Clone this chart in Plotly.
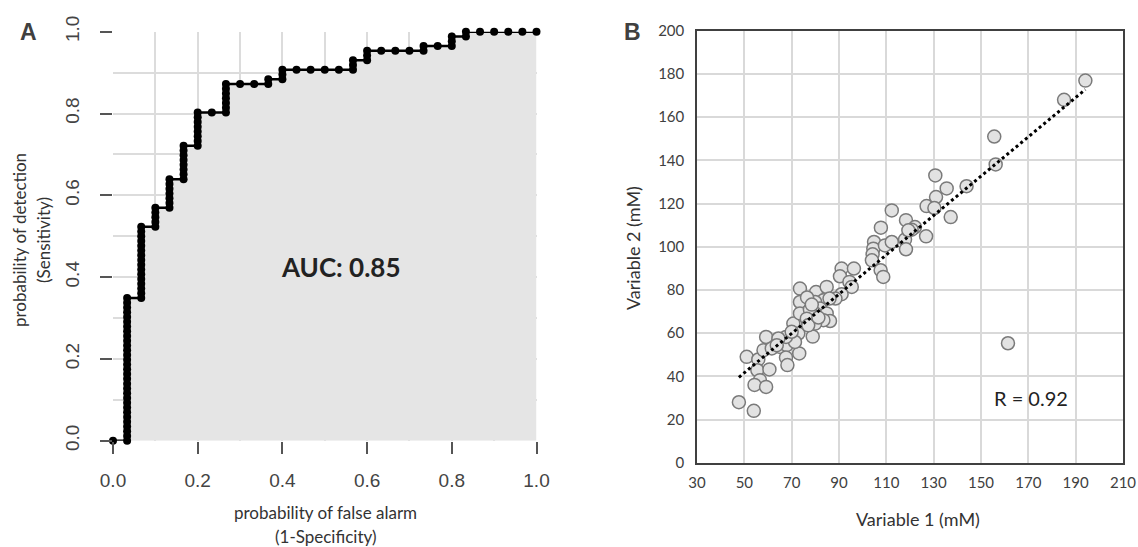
import numpy as np
import plotly.graph_objects as go

W, H = 1138, 547

# ---------------- Panel A: ROC data ----------------
n_neg = 30
n_pos = 86
# cumulative true positives reached at each false-positive count j = 0..30
tp_counts = [0, 30, 45, 49, 55, 62, 69, 69, 75, 75, 75, 76, 78, 78, 78, 78, 78,
             80, 82, 82, 82, 82, 83, 83, 85, 86, 86, 86, 86, 86, 86]
x_ticks_A = [0.0, 0.2, 0.4, 0.6, 0.8, 1.0]
auc_text = "AUC: 0.85"

# ---------------- Panel B: scatter data ----------------
var1 = [47.7, 54.0, 51.0, 55.9, 55.5, 56.6, 54.3, 59.2, 60.6, 59.2, 58.1, 61.6,
        65.1, 67.9, 67.6, 68.2, 70.7, 72.8, 73.2, 73.5, 73.5, 73.5, 71.4, 67.6,
        64.4, 78.9, 80.3, 84.8, 83.4, 79.9, 82.0, 79.9, 84.8, 86.2, 83.4, 79.9,
        77.7, 76.4, 77.0, 70.0, 81.3, 91.1, 96.3, 90.4, 94.4, 95.4, 91.1, 104.8,
        104.5, 104.2, 103.9, 109.4, 112.3, 117.9, 118.3, 107.6, 108.7, 112.3, 107.7,
        118.3, 122.1, 120.7, 119.3, 126.8, 127.0, 131.0, 135.5, 130.7, 137.2, 130.3,
        143.9, 155.6, 156.2, 185.1, 194.1, 161.4, 88.5, 76.5, 78.5, 63.7, 86.0]
var2 = [28.0, 24.0, 49.0, 47.8, 42.8, 38.2, 36.0, 35.1, 43.2, 58.2, 52.1, 52.9,
        53.6, 54.4, 48.7, 45.2, 64.4, 59.8, 50.6, 80.6, 74.4, 69.1, 55.9, 58.2,
        57.5, 58.4, 79.0, 81.4, 75.2, 74.4, 71.4, 69.1, 69.1, 65.6, 66.0, 64.4,
        70.9, 66.7, 63.6, 60.6, 67.2, 89.9, 89.9, 86.3, 83.7, 81.4, 78.0, 102.2,
        99.1, 96.5, 93.7, 100.6, 102.2, 103.3, 98.8, 89.1, 86.0, 116.8, 108.8,
        112.3, 109.1, 107.9, 107.6, 104.8, 118.8, 123.0, 127.0, 133.0, 113.7, 117.9,
        128.0, 151.0, 138.1, 168.0, 176.9, 55.3, 76.0, 76.5, 73.2, 54.4, 76.0]
r_text = "R = 0.92"

# ---------------- build ROC points ----------------
roc_x, roc_y = [], []
prev = 0
for j, tp in enumerate(tp_counts):
    for k in range(prev, tp + 1):
        roc_x.append(j / n_neg)
        roc_y.append(k / n_pos)
    prev = tp

# trendline (least squares over the data range)
v1 = np.array(var1)
v2 = np.array(var2)
slope, icpt = np.polyfit(v1, v2, 1)
tx = np.array([v1.min(), v1.max()])
ty = slope * tx + icpt


def px(x):
    return x / W


def py(y):
    return 1 - y / H


fig = go.Figure()

# fill under ROC
fig.add_trace(go.Scatter(x=roc_x, y=roc_y, mode="lines", line=dict(width=0, color="rgba(0,0,0,0)"),
                         fill="tozeroy", fillcolor="#e5e5e5", xaxis="x", yaxis="y",
                         hoverinfo="skip", showlegend=False))
# ROC line + dots
fig.add_trace(go.Scatter(x=roc_x, y=roc_y, mode="lines+markers",
                         line=dict(color="black", width=2.5),
                         marker=dict(color="black", size=8),
                         cliponaxis=False, xaxis="x", yaxis="y", showlegend=False))

# scatter
fig.add_trace(go.Scatter(x=var1, y=var2, mode="markers",
                         marker=dict(size=13, color="#e2e2e2", line=dict(color="#7a7a7a", width=1.5)),
                         xaxis="x2", yaxis="y2", showlegend=False))
# trendline
fig.add_trace(go.Scatter(x=tx, y=ty, mode="lines", line=dict(color="black", width=3, dash="dot"),
                         xaxis="x2", yaxis="y2", showlegend=False))

tickfontA = dict(family="Liberation Sans, Arial", size=19, color="#444444")
tickfontB = dict(family="Lato", size=15, color="#404040")

fig.update_layout(
    template="none",
    width=W, height=H,
    margin=dict(l=0, r=0, t=0, b=0, autoexpand=False),
    paper_bgcolor="white", plot_bgcolor="white",
    showlegend=False,
    xaxis=dict(domain=[px(113), px(536.5)], range=[0, 1], anchor="y", automargin=False,
               tickvals=x_ticks_A, tickformat=".1f", ticks="outside", ticklen=12,
               tickwidth=1.5, tickcolor="#555555", tickfont=tickfontA,
               showline=False, zeroline=False,
               showgrid=True, gridcolor="#dcdcdc", gridwidth=1.5,
               minor=dict(dtick=0.1, showgrid=True, gridcolor="#dcdcdc", gridwidth=1.5),
               ticklabelstandoff=10),
    yaxis=dict(domain=[py(440.7), py(31.7)], range=[0, 1], anchor="x", automargin=False,
               tickvals=x_ticks_A, tickformat=".1f", ticks="outside", ticklen=12,
               tickwidth=1.5, tickcolor="#555555", tickfont=tickfontA, tickangle=-90,
               showline=False, zeroline=False,
               showgrid=True, gridcolor="#dcdcdc", gridwidth=1.5,
               minor=dict(dtick=0.1, showgrid=True, gridcolor="#dcdcdc", gridwidth=1.5),
               ticklabelstandoff=13),
    xaxis2=dict(domain=[px(697), px(1123)], range=[30, 210], anchor="y2", dtick=20,
                tick0=30, showline=True, mirror=True, linecolor="#404040", linewidth=1.5,
                showgrid=True, gridcolor="#d9d9d9", gridwidth=1.5, zeroline=False,
                automargin=False, ticks="", tickfont=tickfontB, ticklabelstandoff=6),
    yaxis2=dict(domain=[py(462.7), py(30.7)], range=[0, 200], anchor="x2", dtick=20,
                showline=True, mirror=True, linecolor="#404040", linewidth=1.5,
                showgrid=True, gridcolor="#d9d9d9", gridwidth=1.5, zeroline=False,
                automargin=False, ticks="", tickfont=tickfontB, ticklabelstandoff=8),
)

ann = []


def add_text(text, x, y, size, family="Lato", color="#333333", bold=False, angle=0):
    t = f"<b>{text}</b>" if bold else text
    ann.append(dict(text=t, x=px(x), y=py(y), xref="paper", yref="paper",
                    xanchor="center", yanchor="middle", showarrow=False, textangle=angle,
                    font=dict(family=family, size=size, color=color)))


add_text("A", 28, 32, 23, family="Liberation Sans, Arial", color="#404040", bold=True)
add_text("B", 632, 32, 23, family="Liberation Sans, Arial", color="#404040", bold=True)
add_text("probability of detection", 20, 240, 17, angle=-90)
add_text("(Sensitivity)", 44, 240, 17, angle=-90)
add_text("probability of false alarm", 325, 512, 17)
add_text("(1-Specificity)", 325, 536, 17)
add_text(auc_text, 341, 267, 26, color="#222222", bold=True)
add_text("Variable 1 (mM)", 918, 519, 18, color="#333333")
add_text("Variable 2 (mM)", 633, 248, 18, color="#333333", angle=-90)
add_text(r_text, 1031, 398, 20, color="#222222")

fig.update_layout(annotations=ann)

fig.write_html("out.html")
